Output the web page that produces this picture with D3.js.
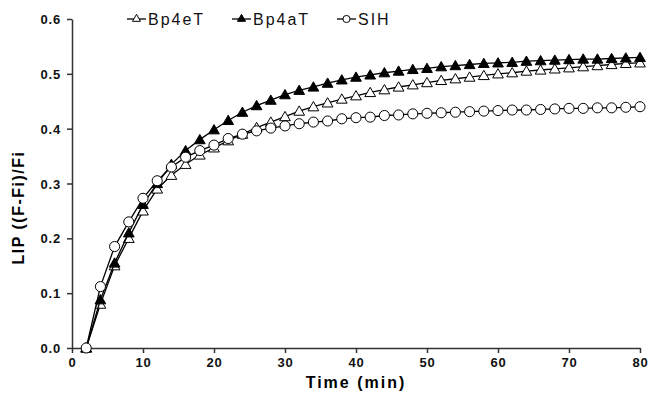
<!DOCTYPE html>
<html><head><meta charset="utf-8">
<script src="https://cdn.jsdelivr.net/npm/d3@7"></script>
<style>body{margin:0;background:#fff}svg{display:block}text{font-family:Arial,"Liberation Sans",sans-serif}</style>
</head><body><svg id="c" width="649" height="397"></svg>
<script>
const times = d3.range(2, 81, 2);
const bp4eT = [0,0.08,0.15,0.2,0.25,0.29,0.315,0.335,0.352,0.365,0.378,0.39,0.402,0.412,0.422,0.432,0.44,0.447,0.454,0.46,0.466,0.471,0.476,0.48,0.484,0.488,0.491,0.494,0.497,0.5,0.502,0.505,0.507,0.509,0.511,0.513,0.515,0.517,0.519,0.52];
const bp4aT = [0,0.088,0.155,0.21,0.262,0.3,0.335,0.36,0.38,0.398,0.415,0.43,0.442,0.452,0.462,0.47,0.476,0.483,0.489,0.494,0.498,0.502,0.505,0.508,0.51,0.513,0.515,0.517,0.519,0.52,0.521,0.523,0.524,0.525,0.526,0.527,0.527,0.528,0.529,0.53];
const sih = [0,0.112,0.185,0.23,0.273,0.305,0.33,0.348,0.36,0.37,0.382,0.39,0.396,0.401,0.405,0.409,0.412,0.414,0.418,0.42,0.421,0.424,0.425,0.427,0.428,0.429,0.43,0.431,0.432,0.433,0.434,0.434,0.435,0.436,0.437,0.437,0.438,0.438,0.439,0.44];
const seriesNames = ["Bp4eT","Bp4aT","SIH"];
const xTicks = [0,10,20,30,40,50,60,70,80];
const yTicks = [0,0.1,0.2,0.3,0.4,0.5,0.6];

const svg = d3.select("#c");
const m = {l:72, r:640, t:19, b:348};
const x = d3.scaleLinear().domain([0,80]).range([m.l,m.r]);
const y = d3.scaleLinear().domain([0,0.6]).range([m.b,m.t]);

const ax = svg.append("g").attr("transform",`translate(0,${m.b})`)
  .call(d3.axisBottom(x).tickValues(xTicks).tickSize(5).tickSizeOuter(0).tickPadding(3));
const ay = svg.append("g").attr("transform",`translate(${m.l},0)`)
  .call(d3.axisLeft(y).tickValues(yTicks).tickFormat(d3.format(".1f")).tickSize(5).tickSizeOuter(0).tickPadding(6));
[ax,ay].forEach(g=>{
  g.selectAll("path,line").attr("stroke","#333").attr("stroke-width",1.5);
  g.selectAll("text").attr("font-size",13).attr("font-weight","bold").attr("fill","#111").attr("letter-spacing",0.8);
});
ay.selectAll("text").attr("dy","0.35em");
ax.selectAll("text").attr("dy","0.85em");

svg.append("text").attr("x",(m.l+m.r)/2).attr("y",388).attr("text-anchor","middle")
  .attr("font-size",16).attr("font-weight","bold").attr("letter-spacing",2).text("Time (min)");
svg.append("text").attr("transform",`translate(24,${(m.t+m.b)/2+24}) rotate(-90)`).attr("text-anchor","middle")
  .attr("font-size",16).attr("font-weight","bold").attr("letter-spacing",1.5).text("LIP ((F-Fi)/Fi");

const data = [
  {name:"Bp4eT", vals:bp4eT, sym:d3.symbolTriangle, fill:"#fff"},
  {name:"Bp4aT", vals:bp4aT, sym:d3.symbolTriangle, fill:"#000"},
  {name:"SIH", vals:sih, sym:d3.symbolCircle, fill:"#fff"}
];
const line = d3.line().x((d,i)=>x(times[i])).y(d=>y(d));
const symSize = s => s===d3.symbolCircle ? 80 : 50;
data.forEach(s=>{
  svg.append("path").attr("d",line(s.vals)).attr("fill","none").attr("stroke","#000").attr("stroke-width",1.3);
  svg.append("g").selectAll("path").data(s.vals).join("path")
    .attr("transform",(d,i)=>`translate(${x(times[i])},${y(d)+(s.sym===d3.symbolTriangle?1:0)})`)
    .attr("d",d3.symbol(s.sym,symSize(s.sym)))
    .attr("fill",s.fill).attr("stroke","#000").attr("stroke-width",1);
});

// legend
const lx = [127,232,337];
data.forEach((s,i)=>{
  const g = svg.append("g").attr("transform",`translate(${lx[i]},19)`);
  g.append("line").attr("x1",0).attr("x2",19).attr("stroke","#000").attr("stroke-width",1.3);
  g.append("path").attr("transform",`translate(9.5,0)`)
    .attr("d",d3.symbol(s.sym, s.sym===d3.symbolCircle?40:28)).attr("fill",s.fill).attr("stroke","#000").attr("stroke-width",1);
  g.append("text").attr("x",21).attr("y",6).attr("font-size",16).attr("letter-spacing",2).attr("fill","#111").text(s.name);
});
</script></body></html>
